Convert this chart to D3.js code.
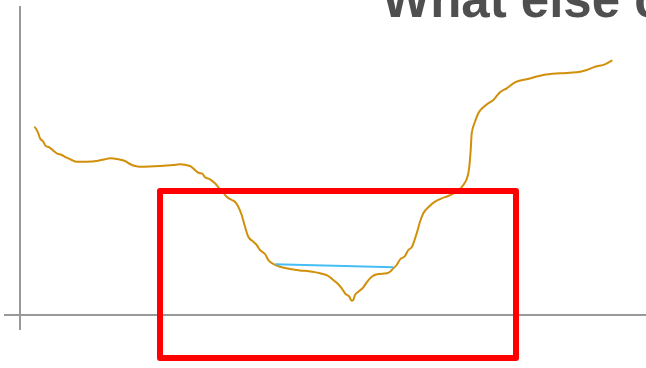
<!DOCTYPE html>
<html>
<head>
<meta charset="utf-8">
<script src="https://cdn.jsdelivr.net/npm/d3@7"></script>
<style>
  html, body { margin: 0; padding: 0; background: #fff; overflow: hidden; }
  svg { display: block; }
</style>
</head>
<body>
<svg id="chart" width="646" height="368"></svg>
<script>
// Series: position along the horizontal axis and the traced value at that position
const xs = [15, 18.3, 20, 23.3, 25.7, 29.3, 33.3, 36.7, 41.7, 46.7, 51.7, 56.7, 66.7, 78.3, 85, 90, 98.3, 105, 110, 115,
  120, 140, 153.3, 160, 170, 175, 178.3, 182.7, 185, 190, 195, 199.3, 203.3, 206.7, 211.7, 215, 218.3, 221.7, 225, 228.3,
  233.3, 236.7, 240, 245, 248.3, 253.3, 260, 270, 280, 290, 300, 308.3, 313.3, 317.3, 321.7, 325, 329.3, 331.7, 333.3, 335,
  338.3, 343.3, 346.7, 351.7, 358.3, 366.7, 370, 373.3, 376.7, 380, 385, 388.3, 391.7, 394, 396.7, 400, 403.3, 408.3, 415, 421.7,
  428.3, 435, 440, 443.3, 446.7, 448.3, 449.3, 450.7, 451.7, 455, 458.3, 463.3, 468.3, 473.3, 476.7, 480, 486.7, 495, 506.7, 523.3,
  540, 556.7, 566.7, 575, 585, 591.7];
const ys = [187.7, 181.7, 176.7, 173.3, 169, 167.7, 164.3, 161.7, 160, 157.3, 155, 153.3, 153.3, 154.3, 155.7, 156.7, 155.7, 154, 151, 149,
  148.3, 149, 150, 150.7, 149, 145, 142.3, 141, 137.7, 135.7, 131.7, 126.7, 122.3, 118.3, 115, 113.3, 108.3, 100, 88.3, 78.3,
  73.3, 70, 65, 61, 55, 51, 48.3, 46, 44.6, 43.5, 41.7, 39, 35, 31.7, 26.7, 21.7, 18.3, 14.3, 15, 20,
  23.3, 27.7, 32.7, 38.3, 41, 41.7, 43.3, 46.7, 50, 55.5, 59, 65, 67.7, 73.3, 81.7, 93.3, 101.7, 107.7, 113.3, 116.7,
  119, 122.3, 126, 130, 136, 141.7, 148.3, 165, 181.7, 193.3, 201.7, 207.7, 211.7, 215, 219, 222.7, 226.7, 232.7, 235.7, 240,
  241.7, 242.7, 245, 248.3, 250.7, 254.3];

// Reference segment across the bottom of the dip
const refX = [255, 373.3];
const refY = [50.7, 47.7];

// Highlight box (data units)
const boxX = [140, 496];
const boxY = [124, -43];

const titleText = "What else c";

const W = 646, H = 368;
const svg = d3.select("#chart");

const x = d3.scaleLinear().domain([0, 626]).range([20, 646]);
const y = d3.scaleLinear().domain([0, 310]).range([315, 5]);

// Axes: crossing lines through the origin
const axisColor = "#999999";
svg.append("line")
  .attr("x1", x(0)).attr("x2", x(0))
  .attr("y1", y(309)).attr("y2", y(-15))
  .attr("stroke", axisColor).attr("stroke-width", 2);
svg.append("line")
  .attr("x1", x(-16)).attr("x2", x(626))
  .attr("y1", y(0)).attr("y2", y(0))
  .attr("stroke", axisColor).attr("stroke-width", 2);

// Main series
const pts = xs.map((v, i) => [v, ys[i]]);
const line = d3.line().x(d => x(d[0])).y(d => y(d[1])).curve(d3.curveMonotoneX);
svg.append("path")
  .datum(pts)
  .attr("d", line)
  .attr("fill", "none")
  .attr("stroke", "#d18f0a")
  .attr("stroke-width", 2)
  .attr("stroke-linejoin", "round")
  .attr("stroke-linecap", "round");

// Reference segment
svg.append("path")
  .datum(refX.map((v, i) => [v, refY[i]]))
  .attr("d", d3.line().x(d => x(d[0])).y(d => y(d[1])))
  .attr("fill", "none")
  .attr("stroke", "#45bdf5")
  .attr("stroke-width", 2);

// Highlight box
svg.append("rect")
  .attr("x", x(boxX[0])).attr("y", y(boxY[0]))
  .attr("width", x(boxX[1]) - x(boxX[0]))
  .attr("height", y(boxY[1]) - y(boxY[0]))
  .attr("fill", "none")
  .attr("stroke", "#ff0000")
  .attr("stroke-width", 6)
  .attr("stroke-linejoin", "round");

// Title
svg.append("text")
  .attr("x", 382).attr("y", 17)
  .attr("font-family", "'Liberation Sans', Arial, sans-serif")
  .attr("font-weight", "bold")
  .attr("font-size", 51)
  .attr("fill", "#4f4f4f")
  .text(titleText);
</script>
</body>
</html>
